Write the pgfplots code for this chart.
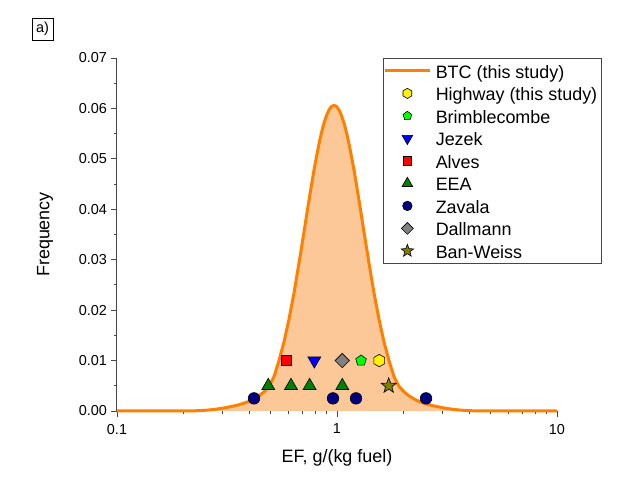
\documentclass[border=0pt]{standalone}
\usepackage{fontspec}
\setmainfont{Liberation Sans}
\usepackage{pgfplots}
\usepackage{pgfplotstable}
\pgfplotsset{compat=1.18}
\usetikzlibrary{plotmarks}

\definecolor{btcline}{RGB}{255,128,0}
\definecolor{btcfill}{RGB}{253,200,152}
\definecolor{axgray}{RGB}{70,70,70}

\pgfdeclareplotmark{hexagon*}{%
 \pgfpathmoveto{\pgfpointpolar{90}{\pgfplotmarksize}}%
 \pgfpathlineto{\pgfpointpolar{150}{\pgfplotmarksize}}%
 \pgfpathlineto{\pgfpointpolar{210}{\pgfplotmarksize}}%
 \pgfpathlineto{\pgfpointpolar{270}{\pgfplotmarksize}}%
 \pgfpathlineto{\pgfpointpolar{330}{\pgfplotmarksize}}%
 \pgfpathlineto{\pgfpointpolar{30}{\pgfplotmarksize}}%
 \pgfpathclose\pgfusepathqfillstroke}
\pgfdeclareplotmark{sqdiamond*}{%
 \pgfpathmoveto{\pgfpointpolar{90}{\pgfplotmarksize}}%
 \pgfpathlineto{\pgfpointpolar{180}{\pgfplotmarksize}}%
 \pgfpathlineto{\pgfpointpolar{270}{\pgfplotmarksize}}%
 \pgfpathlineto{\pgfpointpolar{0}{\pgfplotmarksize}}%
 \pgfpathclose\pgfusepathqfillstroke}
\pgfdeclareplotmark{star5*}{%
 \pgfpathmoveto{\pgfpointpolar{90}{\pgfplotmarksize}}%
 \pgfpathlineto{\pgfpointpolar{126}{0.42\pgfplotmarksize}}%
 \pgfpathlineto{\pgfpointpolar{162}{\pgfplotmarksize}}%
 \pgfpathlineto{\pgfpointpolar{198}{0.42\pgfplotmarksize}}%
 \pgfpathlineto{\pgfpointpolar{234}{\pgfplotmarksize}}%
 \pgfpathlineto{\pgfpointpolar{270}{0.42\pgfplotmarksize}}%
 \pgfpathlineto{\pgfpointpolar{306}{\pgfplotmarksize}}%
 \pgfpathlineto{\pgfpointpolar{342}{0.42\pgfplotmarksize}}%
 \pgfpathlineto{\pgfpointpolar{18}{\pgfplotmarksize}}%
 \pgfpathlineto{\pgfpointpolar{54}{0.42\pgfplotmarksize}}%
 \pgfpathclose\pgfusepathqfillstroke}

\pgfplotstableread{
x y
0.1 0
0.2016 0
0.2239 0.00003
0.2486 0.00012
0.2760 0.0003
0.3064 0.0006
0.3402 0.0010
0.3585 0.00125
0.3778 0.00155
0.3981 0.0019
0.4195 0.0024
0.4420 0.0030
0.4658 0.0038
0.4908 0.0049
0.5172 0.0068
0.5450 0.0100
0.5742 0.0137
0.6051 0.0182
0.6376 0.0234
0.6718 0.0293
0.7079 0.0355
0.7460 0.0418
0.7861 0.0478
0.8283 0.0530
0.8503 0.0552
0.8727 0.0571
0.8960 0.0586
0.9196 0.0597
0.9441 0.0604
0.9691 0.0606
0.9948 0.0604
1.0212 0.0597
1.0482 0.0586
1.0760 0.0571
1.1045 0.0552
1.1337 0.0530
1.1948 0.0478
1.2589 0.0418
1.3265 0.0355
1.3978 0.0293
1.4729 0.0234
1.5521 0.0182
1.6355 0.0137
1.7233 0.0100
1.8159 0.0068
1.9134 0.0049
2.0163 0.0038
2.1246 0.0030
2.2387 0.0024
2.3591 0.0019
2.4858 0.00155
2.6193 0.00125
2.7600 0.0010
3.0646 0.0006
3.4025 0.0003
3.7784 0.00012
4.1952 0.00003
4.6580 0
10 0
}\btc

\begin{document}
\begin{tikzpicture}
\path[use as bounding box] (0,0) rectangle (639bp,489bp);
\node[draw=black, line width=0.7bp, minimum width=21bp, minimum height=22bp, inner sep=0pt,
      font=\fontsize{14.5}{15}\selectfont] at (42.5bp,460bp) {a)};
\begin{axis}[
  at={(117bp,78bp)}, anchor=south west,
  scale only axis, width=440bp, height=353bp,
  xmode=log, xmin=0.1, xmax=10, ymin=0, ymax=0.07,
  axis lines=left,
  axis line style={-, draw=axgray, line width=1bp},
  every tick/.style={draw=axgray, line width=0.9bp},
  tick align=outside,
  major tick length=6.5bp, minor tick length=3.5bp,
  xtick={0.1,1,10}, xticklabels={0.1,1,10},
  ytick={0,0.01,0.02,0.03,0.04,0.05,0.06,0.07},
  minor y tick num=1,
  scaled y ticks=false,
  yticklabel style={/pgf/number format/.cd, fixed, fixed zerofill, precision=2},
  xticklabel style={yshift=-3bp},
  /pgf/number format/assume math mode=true,
  tick label style={font=\fontsize{14.5}{15}\selectfont},
  xlabel={EF, g/(kg fuel)}, ylabel={Frequency},
  every axis x label/.style={at={(axis description cs:0.5,-0.133)}, anchor=center, font=\fontsize{18}{20}\selectfont},
  every axis y label/.style={at={(axis description cs:-0.1636,0.5)}, anchor=center, rotate=90, font=\fontsize{18}{20}\selectfont},
  clip=false,
  legend cell align=left,
  legend image code/.code={\draw[mark repeat=2,mark phase=2,#1] plot coordinates {(0bp,0bp) (22.5bp,0bp) (45bp,0bp)};},
  legend image post style={every mark/.append style={scale=0.82}},
  legend style={at={(rel axis cs:0.6045,1)}, anchor=north west,
    draw=axgray, line width=0.8bp, fill=white,
    inner xsep=0bp, inner ysep=3bp, row sep=3.5bp, column sep=0bp,
    font=\fontsize{18}{20}\selectfont,
    nodes={inner xsep=4.4bp, inner ysep=0bp, text height=17bp, text depth=2bp}},
]
\addplot[draw=none, fill=btcfill, forget plot] table[x=x,y=y] {\btc} \closedcycle;
\addplot[btcline, line width=3bp, line join=round] table[x=x,y=y] {\btc};
\addlegendentry{BTC (this study)}
\addplot[only marks, mark=hexagon*, mark size=6.2bp, mark options={solid, fill=yellow, draw=black, line width=0.6bp}]
  coordinates {(1.557,0.01)};
\addlegendentry{Highway (this study)}
\addplot[only marks, mark=pentagon*, mark size=5.6bp, mark options={solid, fill=green, draw=black, line width=0.6bp}]
  coordinates {(1.286,0.01)};
\addlegendentry{Brimblecombe}
\addplot[only marks, mark=triangle*, mark size=7.5bp, mark options={solid, rotate=180, fill=blue, draw=black, line width=0.6bp}]
  coordinates {(0.789,0.01)};
\addlegendentry{Jezek}
\addplot[only marks, mark=square*, mark size=5.2bp, mark options={solid, fill=red, draw=black, line width=0.6bp}]
  coordinates {(0.590,0.01)};
\addlegendentry{Alves}
\addplot[only marks, mark=triangle*, mark size=7.5bp, mark options={solid, fill={rgb,255:red,0;green,128;blue,0}, draw=black, line width=0.6bp}]
  coordinates {(0.487,0.005) (0.618,0.005) (0.751,0.005) (1.057,0.005)};
\addlegendentry{EEA}
\addplot[only marks, mark=*, mark size=5.8bp, mark options={solid, fill={rgb,255:red,0;green,0;blue,128}, draw=black, line width=0.6bp}]
  coordinates {(0.4195,0.0025) (0.959,0.0025) (1.22,0.0025) (2.539,0.0025)};
\addlegendentry{Zavala}
\addplot[only marks, mark=sqdiamond*, mark size=7.2bp, mark options={solid, fill={rgb,255:red,128;green,128;blue,128}, draw=black, line width=0.6bp}]
  coordinates {(1.057,0.01)};
\addlegendentry{Dallmann}
\addplot[only marks, mark=star5*, mark size=8bp, mark options={solid, fill={rgb,255:red,128;green,128;blue,0}, draw=black, line width=0.6bp}]
  coordinates {(1.718,0.005)};
\addlegendentry{Ban-Weiss}
\end{axis}
\end{tikzpicture}
\end{document}
